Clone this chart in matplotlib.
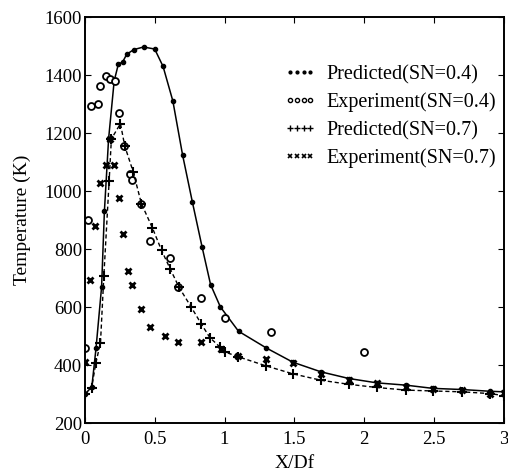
import matplotlib
matplotlib.use('Agg')
import matplotlib.pyplot as plt
from matplotlib.lines import Line2D

# Predicted, swirl number 0.4 (solid line, dots)
pred04_x = [0, 0.05, 0.08, 0.12, 0.14, 0.17, 0.21, 0.24, 0.27, 0.30, 0.35, 0.42,
            0.50, 0.56, 0.63, 0.70, 0.77, 0.84, 0.90, 0.97, 1.10, 1.30, 1.49,
            1.69, 1.89, 2.09, 2.30, 2.49, 2.70, 2.90, 3.0]
pred04_y = [300, 325, 458, 670, 930, 1180, 1380, 1438, 1445, 1472, 1488, 1497,
            1490, 1430, 1311, 1124, 962, 806, 678, 601, 517, 459, 410,
            377, 354, 339, 331, 320, 316, 310, 308]

# Experiment, swirl number 0.4 (open circles)
exp04_x = [0.0, 0.024, 0.043, 0.095, 0.112, 0.15, 0.179, 0.215, 0.248, 0.281,
           0.322, 0.341, 0.405, 0.47, 0.608, 0.668, 0.835, 1.0, 1.33, 2.0]
exp04_y = [460, 900, 1293, 1299, 1364, 1396, 1388, 1379, 1268, 1156,
           1058, 1040, 957, 828, 771, 670, 632, 564, 513, 444]

# Predicted, swirl number 0.7 (dashed line, plus)
pred07_x = [0, 0.048, 0.079, 0.112, 0.136, 0.174, 0.19, 0.255, 0.286, 0.346,
            0.405, 0.484, 0.549, 0.613, 0.675, 0.763, 0.835, 0.895, 0.966, 1.0,
            1.098, 1.30, 1.49, 1.69, 1.89, 2.09, 2.30, 2.49, 2.70, 2.90, 3.0]
pred07_y = [300, 320, 408, 477, 707, 1035, 1180, 1233, 1155, 1067,
            957, 873, 796, 730, 668, 599, 541, 495, 463, 446,
            429, 397, 370, 348, 334, 323, 314, 311, 308, 302, 295]

# Experiment, swirl number 0.7 (x)
exp07_x = [0.0, 0.036, 0.072, 0.107, 0.15, 0.18, 0.21, 0.246, 0.274, 0.31, 0.339,
           0.40, 0.47, 0.573, 0.668, 0.835, 0.978, 1.098, 1.30, 1.49, 1.69,
           1.89, 2.09, 2.30, 2.49, 2.70, 2.90, 3.0]
exp07_y = [410, 695, 879, 1029, 1090, 1180, 1090, 978, 852, 724, 676,
           595, 532, 500, 480, 480, 454, 432, 421, 407, 371,
           348, 339, 323, 318, 316, 300, 303]

plt.rcParams['font.family'] = ['Liberation Serif', 'DejaVu Serif']

fig = plt.figure(figsize=(5.08, 4.76), dpi=100)
ax = fig.add_axes([0.167, 0.111, 0.825, 0.853])

ax.plot(pred04_x, pred04_y, '-', color='black', lw=1.1,
        marker='o', ms=3, mfc='black', mec='black')
ax.plot(exp04_x, exp04_y, 'o', ls='none', ms=5, mfc='white', mec='black', mew=1.3)
ax.plot(pred07_x, pred07_y, '--', color='black', lw=1.0, dashes=(3, 2),
        marker='+', ms=7, mew=1.5)
ax.plot(exp07_x, exp07_y, 'x', ls='none', color='black', ms=5, mew=2.0)

ax.set_xlim(0, 3)
ax.set_ylim(200, 1600)
ax.set_xticks([0, 0.5, 1, 1.5, 2, 2.5, 3])
ax.set_xticklabels(['0', '0.5', '1', '1.5', '2', '2.5', '3'])
ax.set_yticks(range(200, 1601, 200))
ax.tick_params(direction='in', top=True, right=True, labelsize=13.5, length=4)
ax.tick_params(axis='x', pad=6)
ax.tick_params(axis='y', pad=2)
for s in ax.spines.values():
    s.set_linewidth(1.4)

ax.set_xlabel('X/Df', fontsize=14, labelpad=5)
ax.set_ylabel('Temperature (K)', fontsize=14, labelpad=10)

handles = [
    Line2D([], [], ls='none', marker='o', ms=2, color='black'),
    Line2D([], [], ls='none', marker='o', ms=3, mfc='white', mec='black'),
    Line2D([], [], ls='none', marker='+', ms=5, color='black'),
    Line2D([], [], ls='none', marker='x', ms=3, color='black', mew=1.2),
]
labels = ['Predicted(SN=0.4)', 'Experiment(SN=0.4)',
          'Predicted(SN=0.7)', 'Experiment(SN=0.7)']
ax.legend(handles, labels, numpoints=4, loc='upper right',
          bbox_to_anchor=(1.01, 0.912), frameon=False, fontsize=14.5,
          handlelength=1.6, handletextpad=0.5, labelspacing=0.42,
          borderaxespad=0.2)

fig.savefig('out.png', dpi=100)
